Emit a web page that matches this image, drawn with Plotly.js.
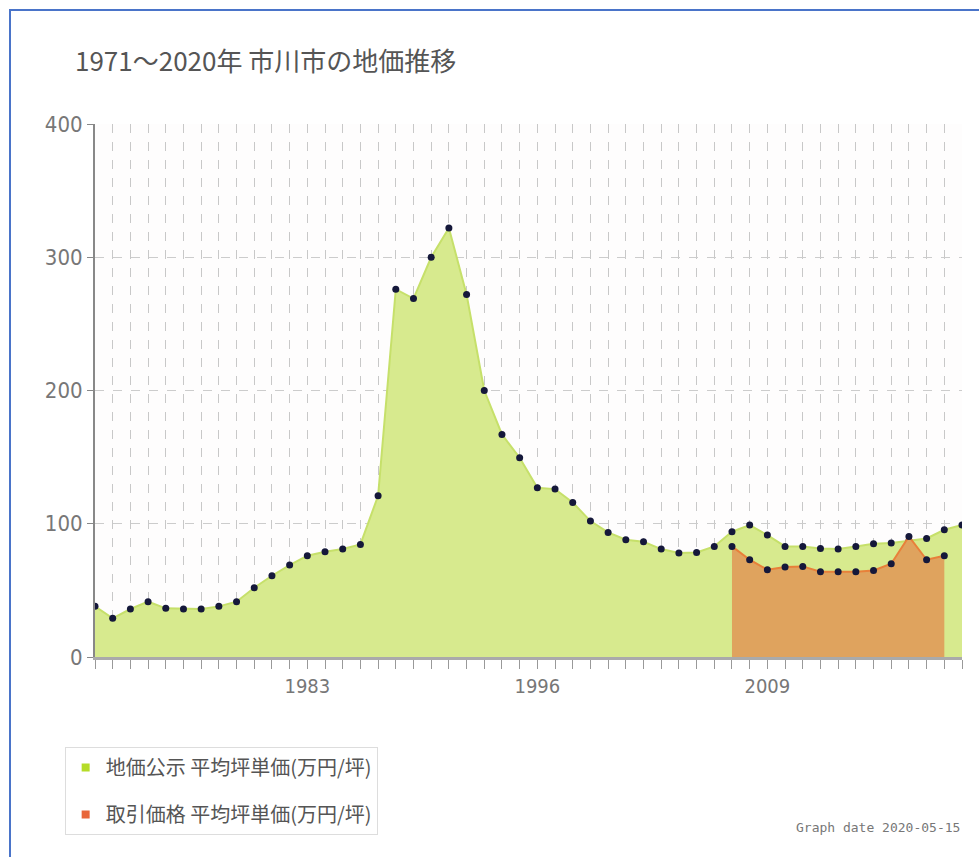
<!DOCTYPE html>
<html>
<head>
<meta charset="utf-8">
<script src="https://cdn.plot.ly/plotly-3.0.1.min.js"></script>
<style>
  html, body { margin: 0; padding: 0; background: #ffffff; }
  #frame { position: absolute; left: 9px; top: 9px; width: 970px; height: 848px;
           border-left: 2px solid #4a74c9; border-top: 2px solid #4a74c9; box-sizing: border-box; pointer-events: none; z-index: 5; }
  #chart { width: 979px; height: 857px; }
</style>
</head>
<body>
<div id="frame"></div>
<div id="chart"></div>
<script>
// ---- data ----
const years = [1971,1972,1973,1974,1975,1976,1977,1978,1979,1980,
               1981,1982,1983,1984,1985,1986,1987,1988,1989,1990,
               1991,1992,1993,1994,1995,1996,1997,1998,1999,2000,
               2001,2002,2003,2004,2005,2006,2007,2008,2009,2010,
               2011,2012,2013,2014,2015,2016,2017,2018,2019,2020];
const kojiValues = [38,29,36,41.5,36.5,36,36,38,41.5,52,
                    61,69,76,79,81,84.5,121,276,269,300,
                    322,272,200,167,149.5,127,126,116,102,93.5,
                    88,86.5,81,78,78.5,83,94,99,91.5,83,
                    83,81.5,81,83,85,85.5,87,89,95.5,99];
const tradeYears = [2007,2008,2009,2010,2011,2012,2013,2014,2015,2016,2017,2018,2019];
const tradeValues = [83,73,65.5,67.5,68,64,64,64,65,70,90.5,73,76];
const xTickLabels = {1983: "1983", 1996: "1996", 2009: "2009"};
const seriesNames = ["地価公示 平均坪単価(万円/坪)", "取引価格 平均坪単価(万円/坪)"];
const titleText = "1971～2020年 市川市の地価推移";
const dateText = "Graph date 2020-05-15";

const GREEN_FILL = "#d7ea8e";
const GREEN_LINE = "#c6e06a";
const ORANGE_FILL = "#dfa35e";
const ORANGE_LINE = "#e8803a";
const MARK = "#15183a";
const narrow = "'DejaVu Sans Condensed', 'Roboto', 'Noto Sans CJK JP', sans-serif";
const cjk = "'Noto Sans CJK JP', 'Noto Sans', sans-serif";

const traces = [
  { x: years, y: kojiValues, type: "scatter", mode: "lines+markers", fill: "tozeroy",
    fillcolor: GREEN_FILL, line: {color: GREEN_LINE, width: 2},
    marker: {color: MARK, size: 7}, showlegend: false, hoverinfo: "x+y" },
  { x: tradeYears, y: tradeValues, type: "scatter", mode: "lines+markers", fill: "tozeroy",
    fillcolor: ORANGE_FILL, line: {color: ORANGE_LINE, width: 2},
    marker: {color: MARK, size: 7}, showlegend: false, hoverinfo: "x+y" },
  { x: [null], y: [null], type: "scatter", mode: "markers", name: seriesNames[0],
    legendgroup: "a", marker: {color: "#b5dc28", symbol: "square", size: 8} },
  { x: [null], y: [null], type: "scatter", mode: "markers", name: seriesNames[1],
    legendgroup: "b", marker: {color: "#e8663a", symbol: "square", size: 8} }
];

const tickText = years.map(y => xTickLabels[y] || "");

const layout = {
  width: 979, height: 857,
  margin: {l: 95, r: 17, t: 124, b: 200},
  paper_bgcolor: "#ffffff",
  plot_bgcolor: "#fefdfd",
  title: {text: titleText, xref: "container", yref: "container", x: 75/979, xanchor: "left",
          y: 1 - 62/857, yanchor: "middle", font: {family: cjk, size: 26, color: "#555555"}},
  xaxis: {
    range: [1971, 2020], tickmode: "array", tickvals: years, ticktext: tickText,
    ticks: "outside", ticklen: 9, tickcolor: "#999999", tickwidth: 1,
    showgrid: true, gridcolor: "#c8c8c8", griddash: "dash", gridwidth: 1,
    showline: true, linecolor: "#aaaaaa", linewidth: 3,
    zeroline: false, fixedrange: true,
    tickfont: {family: narrow, size: 20, color: "#777777"}
  },
  yaxis: {
    range: [0, 400], tickvals: [0,100,200,300,400], ticktext: ["0","100","200","300","400"],
    ticks: "outside", ticklen: 6, tickcolor: "#888888",
    showgrid: true, gridcolor: "#cccccc", griddash: "dash", gridwidth: 1,
    showline: true, linecolor: "#888888", linewidth: 2,
    zeroline: false, fixedrange: true,
    tickfont: {family: narrow, size: 22, color: "#777777"}
  },
  showlegend: true,
  legend: {
    x: -0.035, xanchor: "left", y: -0.169, yanchor: "top",
    bgcolor: "#ffffff", bordercolor: "#dddddd", borderwidth: 1,
    font: {family: cjk, size: 20, color: "#555555"},
    traceorder: "grouped", tracegroupgap: 18, itemwidth: 30
  },
  annotations: [{
    text: dateText, xref: "paper", yref: "paper", x: 1, xanchor: "right",
    y: -0.32, yanchor: "middle", showarrow: false,
    font: {family: "'DejaVu Sans Mono', monospace", size: 13, color: "#777777"}
  }]
};

Plotly.newPlot("chart", traces, layout, {displayModeBar: false, staticPlot: true});
</script>
</body>
</html>
